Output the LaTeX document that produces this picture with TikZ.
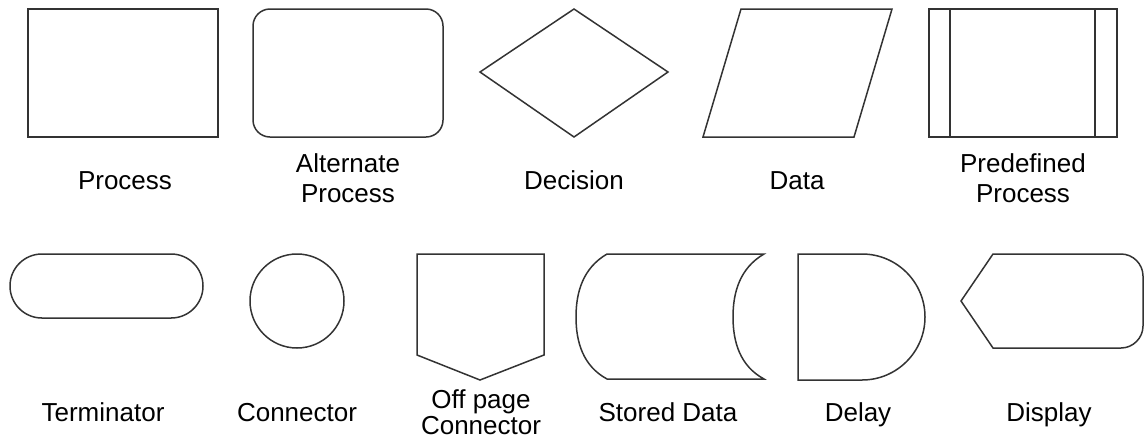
\documentclass[tikz,border=0pt]{standalone}
\usepackage{fontspec}
\setmainfont{Liberation Sans}
\usetikzlibrary{positioning}
\tikzset{
  shp/.style={draw=black!80,line width=1.5pt},
  lbl/.style={font=\fontsize{26}{30}\selectfont,align=center,inner sep=0pt,anchor=base},
  lbltight/.style={lbl,font=\fontsize{26}{26}\selectfont},
}
\begin{document}
\begin{tikzpicture}[x=1pt,y=-1pt]
\useasboundingbox (0,0) rectangle (1146,440);
\draw[shp] (28,9) rectangle (218,137);
\draw[shp,rounded corners=17pt] (253,9) rectangle (443,137);
\draw[shp] (480,72)--(574,9)--(668,72)--(574,137)--cycle;
\draw[shp] (703,137)--(741,9)--(892,9)--(854,137)--cycle;
\draw[shp] (929,9) rectangle (1117,137) (950,9)--(950,137) (1095,9)--(1095,137);
\draw[shp,rounded corners=31.9pt] (10,254) rectangle (203,318);
\draw[shp] (297,301) circle[radius=47pt];
\draw[shp] (417,254)--(544,254)--(544,355)--(480,380)--(417,355)--cycle;
\draw[shp] (607,254)--(764,254) .. controls (740,268) and (733,292) .. (733,317)
  .. controls (733,342) and (740,366) .. (764,379) -- (607,379)
  .. controls (583,366) and (576,342) .. (576,317)
  .. controls (576,292) and (583,268) .. (607,254) -- cycle;
\draw[shp] (798,254)--(862,254) .. controls (896.8,254) and (925,282.2) .. (925,317)
  .. controls (925,351.8) and (896.8,380) .. (862,380) -- (798,380) -- cycle;
\draw[shp] (961,301)--(993,254)--(1121,254) .. controls (1133,254) and (1143,264) .. (1143,276)
  -- (1143,326) .. controls (1143,338) and (1133,348) .. (1121,348) -- (993,348) -- cycle;
\node[lbl] (process) at (125,189) {Process};
\node[lbl] (altprocess) at (348,202) {Alternate\\Process};
\node[lbl] (decision) at (574,189) {Decision};
\node[lbl] (data) at (797,189) {Data};
\node[lbl] (predefined) at (1023,202) {Predefined\\Process};
\node[lbl] (terminator) at (103,421) {Terminator};
\node[lbl] (connector) at (297,421) {Connector};
\node[lbltight] (offpage) at (481,434) {Off page\\Connector};
\node[lbl] (stored) at (668,421) {Stored Data};
\node[lbl] (delay) at (858,421) {Delay};
\node[lbl] (display) at (1049,421) {Display};
\end{tikzpicture}
\end{document}
